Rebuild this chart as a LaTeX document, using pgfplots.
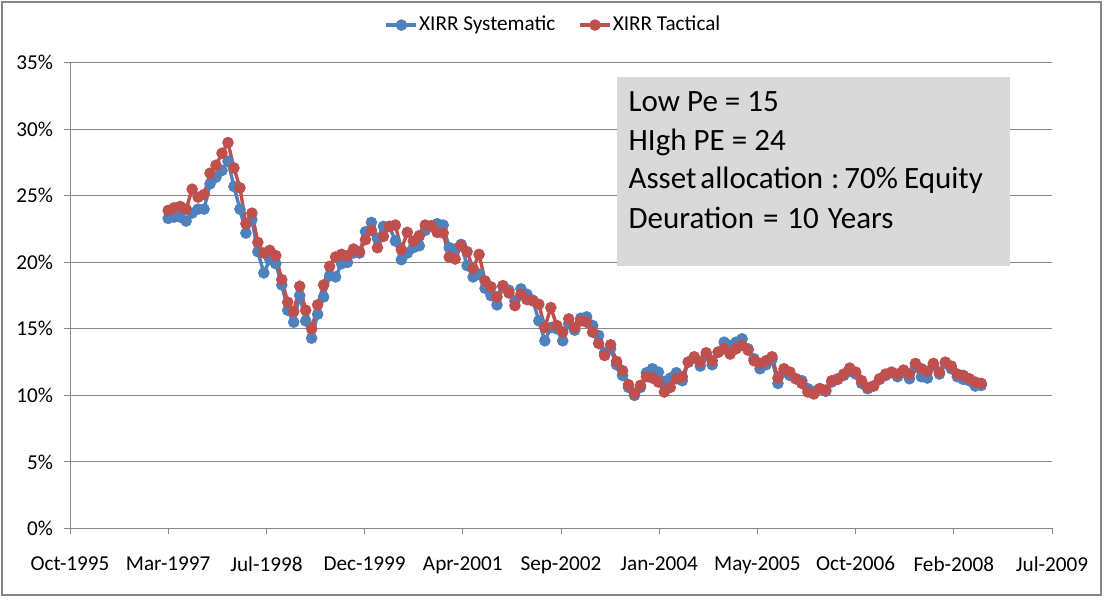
\documentclass[border=0pt]{standalone}
\usepackage{fontspec}
\setmainfont{Carlito}
\usepackage{pgfplots}
\usepackage{pgfplotstable}
\pgfplotsset{compat=1.18}

\definecolor{xblue}{HTML}{4F81BD}
\definecolor{xred}{HTML}{C0504D}
\definecolor{xgrid}{HTML}{868686}
\definecolor{xbox}{HTML}{D9D9D9}

% k = months after Mar-1997, values in percent
\pgfplotstableread{
k sys tac
0 23.3 23.9
1 23.4 24.1
2 23.4 24.2
3 23.1 24.0
4 23.7 25.5
5 24.0 24.9
6 24.0 25.1
7 25.9 26.7
8 26.4 27.3
9 26.9 28.2
10 27.6 29.0
11 25.7 27.1
12 24.0 25.6
13 22.2 22.9
14 23.2 23.7
15 20.8 21.5
16 19.2 20.7
17 20.2 20.9
18 19.9 20.5
19 18.3 18.7
20 16.4 17.0
21 15.5 16.3
22 17.5 18.2
23 15.6 16.4
24 14.3 15.0
25 16.1 16.8
26 17.4 18.3
27 19.0 19.7
28 18.9 20.4
29 19.9 20.6
30 20.0 20.5
31 20.7 21.0
32 20.7 20.8
33 22.3 21.7
34 23.0 22.4
35 21.8 21.1
36 22.7 21.95
37 22.7 22.7
38 21.6 22.8
39 20.2 20.95
40 20.7 22.25
41 21.1 21.6
42 21.25 22.0
43 22.4 22.8
44 22.7 22.75
45 22.9 22.25
46 22.8 22.2
47 21.1 20.4
48 21.0 20.25
49 21.35 21.25
50 19.75 20.8
51 18.9 19.55
52 19.1 20.6
53 18.05 18.6
54 17.5 18.15
55 16.8 17.4
56 18.2 18.25
57 17.9 17.7
58 17.1 16.75
59 18.0 17.6
60 17.6 17.2
61 17.15 17.1
62 15.6 16.85
63 14.1 15.1
64 15.1 16.6
65 15.0 15.25
66 14.1 14.75
67 15.4 15.75
68 14.9 15.1
69 15.8 15.6
70 15.9 15.5
71 15.25 14.75
72 14.5 13.9
73 13.2 13.0
74 13.5 13.8
75 12.3 12.55
76 11.5 11.85
77 10.6 10.8
78 10.0 10.15
79 10.6 10.75
80 11.7 11.4
81 12.0 11.3
82 11.75 11.0
83 11.05 10.25
84 11.3 10.6
85 11.7 11.25
86 11.1 11.4
87 12.5 12.5
88 12.8 12.9
89 12.2 12.5
90 13.0 13.2
91 12.3 12.6
92 13.25 13.25
93 14.0 13.5
94 13.75 13.1
95 14.0 13.5
96 14.25 13.75
97 13.5 13.4
98 12.75 12.6
99 12.0 12.4
100 12.3 12.6
101 12.7 12.9
102 10.9 11.3
103 11.75 12.0
104 11.5 11.75
105 11.25 11.25
106 11.1 10.9
107 10.5 10.25
108 10.3 10.1
109 10.5 10.5
110 10.3 10.4
111 11.0 11.1
112 11.25 11.2
113 11.5 11.6
114 11.8 12.05
115 11.6 11.75
116 10.9 11.1
117 10.5 10.6
118 10.7 10.7
119 11.2 11.25
120 11.5 11.6
121 11.7 11.75
122 11.4 11.6
123 11.75 11.9
124 11.25 11.6
125 12.1 12.4
126 11.4 12.0
127 11.3 11.8
128 12.25 12.4
129 11.6 11.75
130 12.4 12.5
131 12.0 12.2
132 11.4 11.6
133 11.2 11.5
134 11.1 11.25
135 10.7 11.0
136 10.75 10.9
}\xirr

\begin{document}
\begin{tikzpicture}[font=\fontsize{10.6pt}{12.5pt}\selectfont]
\begin{axis}[
    scale only axis,
    width=491pt,
    height=232.8pt,
    xmin=0, xmax=5000,
    ymin=0, ymax=35,
    xtick={0,500,...,5000},
    xticklabels={Oct-1995,Mar-1997,Jul-1998,Dec-1999,Apr-2001,Sep-2002,Jan-2004,May-2005,Oct-2006,Feb-2008,Jul-2009},
    ytick={0,5,...,35},
    yticklabels={0\%,5\%,10\%,15\%,20\%,25\%,30\%,35\%},
    axis x line=bottom,
    axis y line=left,
    axis line style={-, draw=xgrid, line width=0.5pt},
    ymajorgrids,
    major grid style={draw=xgrid, line width=0.5pt},
    tick align=outside,
    major tick length=3pt,
    tick style={draw=xgrid, line width=0.5pt},
    xticklabel style={yshift=-7.5pt},
    yticklabel style={xshift=-2pt},
    legend style={at={(0.4919,1.081)}, anchor=center, draw=none, fill=none,
        legend columns=2, font=\fontsize{10.6pt}{12.5pt}\selectfont,
        nodes={inner xsep=0.5pt},
        /tikz/every odd column/.append style={column sep=0pt},
        /tikz/every even column/.append style={column sep=11pt}},
    legend cell align=left,
    legend image code/.code={\draw[mark repeat=2,mark phase=2,#1] plot coordinates {(0pt,0pt) (7.5pt,0pt) (15pt,0pt)};},
]

\coordinate (ll) at (rel axis cs:0,0);
\coordinate (ur) at (rel axis cs:1,1);

\addplot[xblue, line width=1.7pt, mark=*, mark size=2pt, mark options={solid, fill=xblue, draw=xblue}]
    table[x expr=500+30.4375*\thisrow{k}, y=sys] {\xirr};
\addlegendentry{XIRR Systematic}

\addplot[xred, line width=1.7pt, mark=*, mark size=2pt, mark options={solid, fill=xred, draw=xred}]
    table[x expr=500+30.4375*\thisrow{k}, y=tac] {\xirr};
\addlegendentry{XIRR Tactical}

% parameter box
\fill[xbox] (axis description cs:0.5567,0.5642) rectangle (axis description cs:0.957,0.9701);
\begin{scope}[font=\fontsize{15.5pt}{19.5pt}\selectfont]
\node[anchor=base west, inner sep=0pt] at (axis description cs:0.5685,0.895) {Low Pe = 15};
\node[anchor=base west, inner sep=0pt] at (axis description cs:0.5685,0.8112) {HIgh PE = 24};
\node[anchor=base west, inner sep=0pt] at (axis description cs:0.5685,0.7305) {Asset\hspace{2pt}allocation\hspace{4pt}:\hspace{2.5pt}70\%\hspace{3pt}Equity};
\node[anchor=base west, inner sep=0pt] at (axis description cs:0.5685,0.6445) {Deuration\hspace{4.5pt}=\hspace{4.5pt}10\hspace{4.5pt}Years};
\end{scope}

\end{axis}

% chart area
\path (ll) ++(-35pt,-35.8pt) coordinate (bl);
\path (ur) ++(27pt,31.4pt) coordinate (tr);
\path (bl) rectangle (tr);
\draw[xgrid, line width=0.6pt] ([shift={(1pt,2.5pt)}]bl) rectangle ([shift={(-2.5pt,-1pt)}]tr);

\end{tikzpicture}
\end{document}
